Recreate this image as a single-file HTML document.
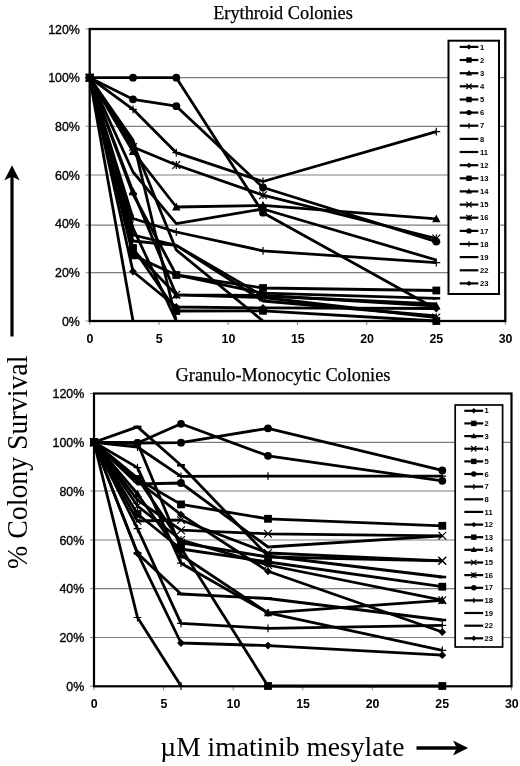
<!DOCTYPE html>
<html><head><meta charset="utf-8"><style>
html,body{margin:0;padding:0;background:#fff;}
body{width:520px;height:766px;overflow:hidden;position:relative;}
svg{position:absolute;left:0;top:0;will-change:transform;}
.tk{font-family:"Liberation Sans",sans-serif;font-size:12.4px;font-weight:bold;fill:#000;}
.lg{font-family:"Liberation Sans",sans-serif;font-size:7.6px;font-weight:bold;fill:#000;}
.tky{font-family:"Liberation Sans",sans-serif;font-size:12.4px;fill:#000;stroke:#000;stroke-width:0.35px;}
.ti{font-family:"Liberation Serif",serif;font-size:18.3px;fill:#000;stroke:#000;stroke-width:0.25px;}
.ax{font-family:"Liberation Serif",serif;font-size:28px;fill:#000;}
</style></head><body>
<svg width="520" height="766" viewBox="0 0 520 766">
<text x="283" y="19" text-anchor="middle" class="ti">Erythroid Colonies</text>
<text x="283" y="381" text-anchor="middle" class="ti">Granulo-Monocytic Colonies</text>
<line x1="89.7" y1="272.7" x2="505.3" y2="272.7" stroke="#7e7e7e" stroke-width="1.2"/>
<line x1="89.7" y1="225.1" x2="505.3" y2="225.1" stroke="#7e7e7e" stroke-width="1.2"/>
<line x1="89.7" y1="175" x2="505.3" y2="175" stroke="#7e7e7e" stroke-width="1.2"/>
<line x1="89.7" y1="126.3" x2="505.3" y2="126.3" stroke="#7e7e7e" stroke-width="1.2"/>
<line x1="89.7" y1="77.6" x2="505.3" y2="77.6" stroke="#7e7e7e" stroke-width="1.2"/>
<line x1="85.7" y1="321" x2="89.7" y2="321" stroke="#8a8a8a" stroke-width="1"/>
<line x1="85.7" y1="272.7" x2="89.7" y2="272.7" stroke="#8a8a8a" stroke-width="1"/>
<line x1="85.7" y1="225.1" x2="89.7" y2="225.1" stroke="#8a8a8a" stroke-width="1"/>
<line x1="85.7" y1="175" x2="89.7" y2="175" stroke="#8a8a8a" stroke-width="1"/>
<line x1="85.7" y1="126.3" x2="89.7" y2="126.3" stroke="#8a8a8a" stroke-width="1"/>
<line x1="85.7" y1="77.6" x2="89.7" y2="77.6" stroke="#8a8a8a" stroke-width="1"/>
<line x1="85.7" y1="29" x2="89.7" y2="29" stroke="#8a8a8a" stroke-width="1"/>
<line x1="89.7" y1="321" x2="89.7" y2="325" stroke="#8a8a8a" stroke-width="1"/>
<line x1="159" y1="321" x2="159" y2="325" stroke="#8a8a8a" stroke-width="1"/>
<line x1="228.2" y1="321" x2="228.2" y2="325" stroke="#8a8a8a" stroke-width="1"/>
<line x1="297.5" y1="321" x2="297.5" y2="325" stroke="#8a8a8a" stroke-width="1"/>
<line x1="366.8" y1="321" x2="366.8" y2="325" stroke="#8a8a8a" stroke-width="1"/>
<line x1="436" y1="321" x2="436" y2="325" stroke="#8a8a8a" stroke-width="1"/>
<line x1="505.3" y1="321" x2="505.3" y2="325" stroke="#8a8a8a" stroke-width="1"/>
<text x="79.9" y="325.6" text-anchor="end" class="tky">0%</text>
<text x="79.9" y="276.9" text-anchor="end" class="tky">20%</text>
<text x="79.9" y="228.3" text-anchor="end" class="tky">40%</text>
<text x="79.9" y="179.6" text-anchor="end" class="tky">60%</text>
<text x="79.9" y="130.9" text-anchor="end" class="tky">80%</text>
<text x="79.9" y="82.3" text-anchor="end" class="tky">100%</text>
<text x="79.9" y="33.6" text-anchor="end" class="tky">120%</text>
<text x="90" y="342.8" text-anchor="middle" class="tk">0</text>
<text x="159.3" y="342.8" text-anchor="middle" class="tk">5</text>
<text x="228.5" y="342.8" text-anchor="middle" class="tk">10</text>
<text x="297.8" y="342.8" text-anchor="middle" class="tk">15</text>
<text x="367.1" y="342.8" text-anchor="middle" class="tk">20</text>
<text x="436.3" y="342.8" text-anchor="middle" class="tk">25</text>
<text x="505.6" y="342.8" text-anchor="middle" class="tk">30</text>
<path d="M89.7,77.7 L133,77.7 L176.3,77.7 L263,212.7 L436.3,309" stroke="#000" stroke-width="2.8" fill="none" stroke-linejoin="round"/>
<circle cx="89.7" cy="77.7" r="3.9" fill="#000"/>
<circle cx="133" cy="77.7" r="3.9" fill="#000"/>
<circle cx="176.3" cy="77.7" r="3.9" fill="#000"/>
<circle cx="263" cy="212.7" r="3.9" fill="#000"/>
<path d="M89.7,77.7 L133,99.3 L176.3,106.2 L263,187.5 L436.3,241.6" stroke="#000" stroke-width="2.8" fill="none" stroke-linejoin="round"/>
<circle cx="89.7" cy="77.7" r="3.9" fill="#000"/>
<circle cx="133" cy="99.3" r="3.9" fill="#000"/>
<circle cx="176.3" cy="106.2" r="3.9" fill="#000"/>
<circle cx="263" cy="187.5" r="3.9" fill="#000"/>
<circle cx="436.3" cy="241.6" r="3.9" fill="#000"/>
<path d="M89.7,77.7 L133,109.3 L176.3,152.7 L263,181.5 L436.3,131.6" stroke="#000" stroke-width="2.8" fill="none" stroke-linejoin="round"/>
<path d="M89.7,73.8V81.6M85.8,77.7H93.6" stroke="#000" stroke-width="1.2" fill="none"/>
<path d="M133,105.4V113.2M129.1,109.3H136.9" stroke="#000" stroke-width="1.2" fill="none"/>
<path d="M176.3,148.8V156.6M172.4,152.7H180.2" stroke="#000" stroke-width="1.2" fill="none"/>
<path d="M263,177.6V185.4M259.1,181.5H266.9" stroke="#000" stroke-width="1.2" fill="none"/>
<path d="M436.3,127.7V135.5M432.4,131.6H440.2" stroke="#000" stroke-width="1.2" fill="none"/>
<path d="M89.7,77.7 L133,147 L176.3,165 L263,195.2 L436.3,238.5" stroke="#000" stroke-width="2.8" fill="none" stroke-linejoin="round"/>
<path d="M85.8,73.8L93.6,81.6M85.8,81.6L93.6,73.8M89.7,73.8V81.6" stroke="#000" stroke-width="1.2" fill="none"/>
<path d="M129.1,143.1L136.9,150.9M129.1,150.9L136.9,143.1M133,143.1V150.9" stroke="#000" stroke-width="1.2" fill="none"/>
<path d="M172.4,161.1L180.2,168.9M172.4,168.9L180.2,161.1M176.3,161.1V168.9" stroke="#000" stroke-width="1.2" fill="none"/>
<path d="M259.1,191.3L266.9,199.1M259.1,199.1L266.9,191.3M263,191.3V199.1" stroke="#000" stroke-width="1.2" fill="none"/>
<path d="M432.4,234.6L440.2,242.4M432.4,242.4L440.2,234.6M436.3,234.6V242.4" stroke="#000" stroke-width="1.2" fill="none"/>
<path d="M89.7,77.7 L133,151.5 L176.3,207 L263,205.4 L436.3,218.9" stroke="#000" stroke-width="2.8" fill="none" stroke-linejoin="round"/>
<path d="M89.7,73.3 L93.9,81.1 L85.5,81.1Z" fill="#000"/>
<path d="M133,147.1 L137.2,154.9 L128.8,154.9Z" fill="#000"/>
<path d="M176.3,202.6 L180.5,210.4 L172.1,210.4Z" fill="#000"/>
<path d="M263,201 L267.2,208.8 L258.8,208.8Z" fill="#000"/>
<path d="M436.3,214.5 L440.5,222.3 L432.1,222.3Z" fill="#000"/>
<path d="M89.7,77.7 L133,172 L176.3,223.6 L263,209 L436.3,260" stroke="#000" stroke-width="2.8" fill="none" stroke-linejoin="round"/>
<path d="M89.7,77.7 L133,218.5 L176.3,232 L263,250.8 L436.3,262.7" stroke="#000" stroke-width="2.8" fill="none" stroke-linejoin="round"/>
<path d="M89.7,73.8V81.6M85.8,77.7H93.6" stroke="#000" stroke-width="1.2" fill="none"/>
<path d="M133,214.6V222.4M129.1,218.5H136.9" stroke="#000" stroke-width="1.2" fill="none"/>
<path d="M176.3,228.1V235.9M172.4,232H180.2" stroke="#000" stroke-width="1.2" fill="none"/>
<path d="M263,246.9V254.7M259.1,250.8H266.9" stroke="#000" stroke-width="1.2" fill="none"/>
<path d="M436.3,258.8V266.6M432.4,262.7H440.2" stroke="#000" stroke-width="1.2" fill="none"/>
<path d="M89.7,77.7 L133,143 L176.3,250 L263,321" stroke="#000" stroke-width="2.8" fill="none" stroke-linejoin="round"/>
<path d="M133,138.6 L137.2,146.4 L128.8,146.4Z" fill="#000"/>
<path d="M89.7,77.7 L133,255.4 L176.3,275 L263,288 L436.3,290.5" stroke="#000" stroke-width="2.8" fill="none" stroke-linejoin="round"/>
<rect x="85.8" y="73.8" width="7.8" height="7.8" fill="#000"/>
<rect x="129.1" y="251.5" width="7.8" height="7.8" fill="#000"/>
<rect x="172.4" y="271.1" width="7.8" height="7.8" fill="#000"/>
<rect x="259.1" y="284.1" width="7.8" height="7.8" fill="#000"/>
<rect x="432.4" y="286.6" width="7.8" height="7.8" fill="#000"/>
<path d="M89.7,77.7 L133,271.5 L176.3,307 L263,307.9 L436.3,308.5" stroke="#000" stroke-width="2.8" fill="none" stroke-linejoin="round"/>
<path d="M89.7,73.8 L93.6,77.7 L89.7,81.6 L85.8,77.7Z" fill="#000"/>
<path d="M133,267.6 L136.9,271.5 L133,275.4 L129.1,271.5Z" fill="#000"/>
<path d="M176.3,303.1 L180.2,307 L176.3,310.9 L172.4,307Z" fill="#000"/>
<path d="M263,304 L266.9,307.9 L263,311.8 L259.1,307.9Z" fill="#000"/>
<path d="M436.3,304.6 L440.2,308.5 L436.3,312.4 L432.4,308.5Z" fill="#000"/>
<path d="M89.7,77.7 L133,241 L176.3,245.4 L263,296 L436.3,304" stroke="#000" stroke-width="2.8" fill="none" stroke-linejoin="round"/>
<path d="M89.7,77.7 L133,321" stroke="#000" stroke-width="2.8" fill="none" stroke-linejoin="round"/>
<path d="M89.7,77.7 L133,140 L176.3,321" stroke="#000" stroke-width="2.8" fill="none" stroke-linejoin="round"/>
<path d="M89.7,77.7 L133,235 L176.3,245.4 L263,301 L436.3,316" stroke="#000" stroke-width="2.8" fill="none" stroke-linejoin="round"/>
<path d="M89.7,77.7 L133,194 L176.3,275 L263,293.2 L436.3,298.3" stroke="#000" stroke-width="2.8" fill="none" stroke-linejoin="round"/>
<path d="M85.8,77.7H93.6" stroke="#000" stroke-width="2.6" fill="none"/>
<path d="M129.1,194H136.9" stroke="#000" stroke-width="2.6" fill="none"/>
<path d="M172.4,275H180.2" stroke="#000" stroke-width="2.6" fill="none"/>
<path d="M259.1,293.2H266.9" stroke="#000" stroke-width="2.6" fill="none"/>
<path d="M432.4,298.3H440.2" stroke="#000" stroke-width="2.6" fill="none"/>
<path d="M89.7,77.7 L133,191.5 L176.3,294.8 L263,295.4 L436.3,306" stroke="#000" stroke-width="2.8" fill="none" stroke-linejoin="round"/>
<path d="M89.7,73.3 L93.9,81.1 L85.5,81.1Z" fill="#000"/>
<path d="M133,187.1 L137.2,194.9 L128.8,194.9Z" fill="#000"/>
<path d="M176.3,290.4 L180.5,298.2 L172.1,298.2Z" fill="#000"/>
<path d="M263,291 L267.2,298.8 L258.8,298.8Z" fill="#000"/>
<path d="M436.3,301.6 L440.5,309.4 L432.1,309.4Z" fill="#000"/>
<path d="M89.7,77.7 L133,248 L176.3,311 L263,310.8 L436.3,321" stroke="#000" stroke-width="2.8" fill="none" stroke-linejoin="round"/>
<rect x="85.8" y="73.8" width="7.8" height="7.8" fill="#000"/>
<rect x="129.1" y="244.1" width="7.8" height="7.8" fill="#000"/>
<rect x="172.4" y="307.1" width="7.8" height="7.8" fill="#000"/>
<rect x="259.1" y="306.9" width="7.8" height="7.8" fill="#000"/>
<rect x="432.4" y="317.1" width="7.8" height="7.8" fill="#000"/>
<path d="M89.7,77.7 L133,250 L176.3,294.8 L263,297.5 L436.3,317.5" stroke="#000" stroke-width="2.8" fill="none" stroke-linejoin="round"/>
<path d="M85.8,73.8L93.6,81.6M85.8,81.6L93.6,73.8M89.7,73.8V81.6" stroke="#000" stroke-width="1.2" fill="none"/>
<path d="M129.1,246.1L136.9,253.9M129.1,253.9L136.9,246.1M133,246.1V253.9" stroke="#000" stroke-width="1.2" fill="none"/>
<path d="M172.4,290.9L180.2,298.7M172.4,298.7L180.2,290.9M176.3,290.9V298.7" stroke="#000" stroke-width="1.2" fill="none"/>
<path d="M259.1,293.6L266.9,301.4M259.1,301.4L266.9,293.6M263,293.6V301.4" stroke="#000" stroke-width="1.2" fill="none"/>
<path d="M432.4,313.6L440.2,321.4M432.4,321.4L440.2,313.6M436.3,313.6V321.4" stroke="#000" stroke-width="1.2" fill="none"/>
<path d="M89.7,77.7 L133,228 L176.3,321" stroke="#000" stroke-width="2.8" fill="none" stroke-linejoin="round"/>
<rect x="89.7" y="29" width="415.6" height="292" fill="none" stroke="#000" stroke-width="2.3"/>
<rect x="448.5" y="40.7" width="50.5" height="253.3" fill="#fff" stroke="#000" stroke-width="2.0"/>
<line x1="459.7" y1="46.9" x2="478.3" y2="46.9" stroke="#000" stroke-width="2.2"/>
<path d="M469,44.2 L471.7,46.9 L469,49.6 L466.3,46.9Z" fill="#000"/>
<text x="480" y="49.5" class="lg">1</text>
<line x1="459.7" y1="60" x2="478.3" y2="60" stroke="#000" stroke-width="2.2"/>
<rect x="466.3" y="57.3" width="5.4" height="5.4" fill="#000"/>
<text x="480" y="62.6" class="lg">2</text>
<line x1="459.7" y1="73.2" x2="478.3" y2="73.2" stroke="#000" stroke-width="2.2"/>
<path d="M469,70 L472,75.4 L466,75.4Z" fill="#000"/>
<text x="480" y="75.8" class="lg">3</text>
<line x1="459.7" y1="86.3" x2="478.3" y2="86.3" stroke="#000" stroke-width="2.2"/>
<path d="M466.3,83.6L471.7,89M466.3,89L471.7,83.6" stroke="#000" stroke-width="1.2" fill="none"/>
<text x="480" y="88.9" class="lg">4</text>
<line x1="459.7" y1="99.5" x2="478.3" y2="99.5" stroke="#000" stroke-width="2.2"/>
<rect x="466.3" y="96.8" width="5.4" height="5.4" fill="#000"/>
<text x="480" y="102.1" class="lg">5</text>
<line x1="459.7" y1="112.6" x2="478.3" y2="112.6" stroke="#000" stroke-width="2.2"/>
<circle cx="469" cy="112.6" r="2.7" fill="#000"/>
<text x="480" y="115.2" class="lg">6</text>
<line x1="459.7" y1="125.7" x2="478.3" y2="125.7" stroke="#000" stroke-width="2.2"/>
<path d="M469,123V128.4M466.3,125.7H471.7" stroke="#000" stroke-width="1.2" fill="none"/>
<text x="480" y="128.3" class="lg">7</text>
<line x1="459.7" y1="138.9" x2="478.3" y2="138.9" stroke="#000" stroke-width="2.2"/>
<text x="480" y="141.5" class="lg">8</text>
<line x1="459.7" y1="152" x2="478.3" y2="152" stroke="#000" stroke-width="2.2"/>
<text x="480" y="154.6" class="lg">11</text>
<line x1="459.7" y1="165.2" x2="478.3" y2="165.2" stroke="#000" stroke-width="2.2"/>
<path d="M469,162.5 L471.7,165.2 L469,167.9 L466.3,165.2Z" fill="#000"/>
<text x="480" y="167.8" class="lg">12</text>
<line x1="459.7" y1="178.3" x2="478.3" y2="178.3" stroke="#000" stroke-width="2.2"/>
<rect x="466.3" y="175.6" width="5.4" height="5.4" fill="#000"/>
<text x="480" y="180.9" class="lg">13</text>
<line x1="459.7" y1="191.4" x2="478.3" y2="191.4" stroke="#000" stroke-width="2.2"/>
<path d="M469,188.2 L472,193.6 L466,193.6Z" fill="#000"/>
<text x="480" y="194" class="lg">14</text>
<line x1="459.7" y1="204.6" x2="478.3" y2="204.6" stroke="#000" stroke-width="2.2"/>
<path d="M466.3,201.9L471.7,207.3M466.3,207.3L471.7,201.9" stroke="#000" stroke-width="1.2" fill="none"/>
<text x="480" y="207.2" class="lg">15</text>
<line x1="459.7" y1="217.7" x2="478.3" y2="217.7" stroke="#000" stroke-width="2.2"/>
<path d="M466.3,215L471.7,220.4M466.3,220.4L471.7,215M469,215V220.4" stroke="#000" stroke-width="1.2" fill="none"/>
<text x="480" y="220.3" class="lg">16</text>
<line x1="459.7" y1="230.9" x2="478.3" y2="230.9" stroke="#000" stroke-width="2.2"/>
<circle cx="469" cy="230.9" r="2.7" fill="#000"/>
<text x="480" y="233.5" class="lg">17</text>
<line x1="459.7" y1="244" x2="478.3" y2="244" stroke="#000" stroke-width="2.2"/>
<path d="M469,241.3V246.7M466.3,244H471.7" stroke="#000" stroke-width="1.2" fill="none"/>
<text x="480" y="246.6" class="lg">18</text>
<line x1="459.7" y1="257.1" x2="478.3" y2="257.1" stroke="#000" stroke-width="2.2"/>
<text x="480" y="259.7" class="lg">19</text>
<line x1="459.7" y1="270.3" x2="478.3" y2="270.3" stroke="#000" stroke-width="2.2"/>
<text x="480" y="272.9" class="lg">22</text>
<line x1="459.7" y1="283.4" x2="478.3" y2="283.4" stroke="#000" stroke-width="2.2"/>
<path d="M469,280.7 L471.7,283.4 L469,286.1 L466.3,283.4Z" fill="#000"/>
<text x="480" y="286" class="lg">23</text>
<line x1="94" y1="637.5" x2="511.5" y2="637.5" stroke="#7e7e7e" stroke-width="1.2"/>
<line x1="94" y1="588.6" x2="511.5" y2="588.6" stroke="#7e7e7e" stroke-width="1.2"/>
<line x1="94" y1="540" x2="511.5" y2="540" stroke="#7e7e7e" stroke-width="1.2"/>
<line x1="94" y1="491" x2="511.5" y2="491" stroke="#7e7e7e" stroke-width="1.2"/>
<line x1="94" y1="442.4" x2="511.5" y2="442.4" stroke="#7e7e7e" stroke-width="1.2"/>
<line x1="90" y1="686.2" x2="94" y2="686.2" stroke="#8a8a8a" stroke-width="1"/>
<line x1="90" y1="637.5" x2="94" y2="637.5" stroke="#8a8a8a" stroke-width="1"/>
<line x1="90" y1="588.6" x2="94" y2="588.6" stroke="#8a8a8a" stroke-width="1"/>
<line x1="90" y1="540" x2="94" y2="540" stroke="#8a8a8a" stroke-width="1"/>
<line x1="90" y1="491" x2="94" y2="491" stroke="#8a8a8a" stroke-width="1"/>
<line x1="90" y1="442.4" x2="94" y2="442.4" stroke="#8a8a8a" stroke-width="1"/>
<line x1="90" y1="393.5" x2="94" y2="393.5" stroke="#8a8a8a" stroke-width="1"/>
<line x1="94" y1="686.3" x2="94" y2="690.3" stroke="#8a8a8a" stroke-width="1"/>
<line x1="163.6" y1="686.3" x2="163.6" y2="690.3" stroke="#8a8a8a" stroke-width="1"/>
<line x1="233.2" y1="686.3" x2="233.2" y2="690.3" stroke="#8a8a8a" stroke-width="1"/>
<line x1="302.8" y1="686.3" x2="302.8" y2="690.3" stroke="#8a8a8a" stroke-width="1"/>
<line x1="372.3" y1="686.3" x2="372.3" y2="690.3" stroke="#8a8a8a" stroke-width="1"/>
<line x1="441.9" y1="686.3" x2="441.9" y2="690.3" stroke="#8a8a8a" stroke-width="1"/>
<line x1="511.5" y1="686.3" x2="511.5" y2="690.3" stroke="#8a8a8a" stroke-width="1"/>
<text x="84.2" y="690.9" text-anchor="end" class="tky">0%</text>
<text x="84.2" y="642.1" text-anchor="end" class="tky">20%</text>
<text x="84.2" y="593.3" text-anchor="end" class="tky">40%</text>
<text x="84.2" y="544.5" text-anchor="end" class="tky">60%</text>
<text x="84.2" y="495.7" text-anchor="end" class="tky">80%</text>
<text x="84.2" y="446.9" text-anchor="end" class="tky">100%</text>
<text x="84.2" y="398.1" text-anchor="end" class="tky">120%</text>
<text x="94.3" y="708.1" text-anchor="middle" class="tk">0</text>
<text x="163.9" y="708.1" text-anchor="middle" class="tk">5</text>
<text x="233.5" y="708.1" text-anchor="middle" class="tk">10</text>
<text x="303.1" y="708.1" text-anchor="middle" class="tk">15</text>
<text x="372.6" y="708.1" text-anchor="middle" class="tk">20</text>
<text x="442.2" y="708.1" text-anchor="middle" class="tk">25</text>
<text x="511.8" y="708.1" text-anchor="middle" class="tk">30</text>
<path d="M94,442.3 L137.5,443 L181,548 L268,686 L442.3,686" stroke="#000" stroke-width="2.8" fill="none" stroke-linejoin="round"/>
<rect x="90.1" y="438.4" width="7.8" height="7.8" fill="#000"/>
<rect x="177.1" y="544.1" width="7.8" height="7.8" fill="#000"/>
<rect x="264.1" y="682.1" width="7.8" height="7.8" fill="#000"/>
<rect x="438.4" y="682.1" width="7.8" height="7.8" fill="#000"/>
<path d="M94,442.3 L137.5,443 L181,442.7 L268,428.3 L442.3,470.4" stroke="#000" stroke-width="2.8" fill="none" stroke-linejoin="round"/>
<circle cx="94" cy="442.3" r="3.9" fill="#000"/>
<circle cx="137.5" cy="443" r="3.9" fill="#000"/>
<circle cx="181" cy="442.7" r="3.9" fill="#000"/>
<circle cx="268" cy="428.3" r="3.9" fill="#000"/>
<circle cx="442.3" cy="470.4" r="3.9" fill="#000"/>
<path d="M94,442.3 L137.5,443 L181,423.8 L268,455.8 L442.3,480.8" stroke="#000" stroke-width="2.8" fill="none" stroke-linejoin="round"/>
<circle cx="94" cy="442.3" r="3.9" fill="#000"/>
<circle cx="137.5" cy="443" r="3.9" fill="#000"/>
<circle cx="181" cy="423.8" r="3.9" fill="#000"/>
<circle cx="268" cy="455.8" r="3.9" fill="#000"/>
<circle cx="442.3" cy="480.8" r="3.9" fill="#000"/>
<path d="M94,442.3 L137.5,426.9 L181,465.3 L268,556 L442.3,577" stroke="#000" stroke-width="2.8" fill="none" stroke-linejoin="round"/>
<path d="M90.1,442.3H97.9" stroke="#000" stroke-width="2.6" fill="none"/>
<path d="M133.6,426.9H141.4" stroke="#000" stroke-width="2.6" fill="none"/>
<path d="M177.1,465.3H184.9" stroke="#000" stroke-width="2.6" fill="none"/>
<path d="M264.1,556H271.9" stroke="#000" stroke-width="2.6" fill="none"/>
<path d="M438.4,577H446.2" stroke="#000" stroke-width="2.6" fill="none"/>
<path d="M94,442.3 L137.5,447 L181,476.3 L268,476.2 L442.3,476.2" stroke="#000" stroke-width="2.8" fill="none" stroke-linejoin="round"/>
<path d="M94,438.4V446.2M90.1,442.3H97.9" stroke="#000" stroke-width="1.2" fill="none"/>
<path d="M137.5,443.1V450.9M133.6,447H141.4" stroke="#000" stroke-width="1.2" fill="none"/>
<path d="M181,472.4V480.2M177.1,476.3H184.9" stroke="#000" stroke-width="1.2" fill="none"/>
<path d="M268,472.3V480.1M264.1,476.2H271.9" stroke="#000" stroke-width="1.2" fill="none"/>
<path d="M442.3,472.3V480.1M438.4,476.2H446.2" stroke="#000" stroke-width="1.2" fill="none"/>
<path d="M94,442.3 L137.5,484 L181,483 L268,547 L442.3,535.8" stroke="#000" stroke-width="2.8" fill="none" stroke-linejoin="round"/>
<circle cx="181" cy="483" r="3.9" fill="#000"/>
<path d="M94,442.3 L137.5,479 L181,504.4 L268,518.8 L442.3,525.8" stroke="#000" stroke-width="2.8" fill="none" stroke-linejoin="round"/>
<rect x="90.1" y="438.4" width="7.8" height="7.8" fill="#000"/>
<rect x="133.6" y="475.1" width="7.8" height="7.8" fill="#000"/>
<rect x="177.1" y="500.5" width="7.8" height="7.8" fill="#000"/>
<rect x="264.1" y="514.9" width="7.8" height="7.8" fill="#000"/>
<rect x="438.4" y="521.9" width="7.8" height="7.8" fill="#000"/>
<path d="M94,442.3 L137.5,500 L181,530.2 L268,533.8 L442.3,535.8" stroke="#000" stroke-width="2.8" fill="none" stroke-linejoin="round"/>
<path d="M90.1,438.4L97.9,446.2M90.1,446.2L97.9,438.4" stroke="#000" stroke-width="1.2" fill="none"/>
<path d="M133.6,496.1L141.4,503.9M133.6,503.9L141.4,496.1" stroke="#000" stroke-width="1.2" fill="none"/>
<path d="M177.1,526.3L184.9,534.1M177.1,534.1L184.9,526.3" stroke="#000" stroke-width="1.2" fill="none"/>
<path d="M264.1,529.9L271.9,537.7M264.1,537.7L271.9,529.9" stroke="#000" stroke-width="1.2" fill="none"/>
<path d="M438.4,531.9L446.2,539.7M438.4,539.7L446.2,531.9" stroke="#000" stroke-width="1.2" fill="none"/>
<path d="M94,442.3 L137.5,481 L181,514.6 L268,571.3 L442.3,632" stroke="#000" stroke-width="2.8" fill="none" stroke-linejoin="round"/>
<path d="M94,438.4 L97.9,442.3 L94,446.2 L90.1,442.3Z" fill="#000"/>
<path d="M137.5,477.1 L141.4,481 L137.5,484.9 L133.6,481Z" fill="#000"/>
<path d="M181,510.7 L184.9,514.6 L181,518.5 L177.1,514.6Z" fill="#000"/>
<path d="M268,567.4 L271.9,571.3 L268,575.2 L264.1,571.3Z" fill="#000"/>
<path d="M442.3,628.1 L446.2,632 L442.3,635.9 L438.4,632Z" fill="#000"/>
<path d="M94,442.3 L137.5,478 L181,542.8 L268,557 L442.3,560.8" stroke="#000" stroke-width="2.8" fill="none" stroke-linejoin="round"/>
<path d="M90.1,438.4L97.9,446.2M90.1,446.2L97.9,438.4" stroke="#000" stroke-width="1.2" fill="none"/>
<path d="M133.6,474.1L141.4,481.9M133.6,481.9L141.4,474.1" stroke="#000" stroke-width="1.2" fill="none"/>
<path d="M177.1,538.9L184.9,546.7M177.1,546.7L184.9,538.9" stroke="#000" stroke-width="1.2" fill="none"/>
<path d="M264.1,553.1L271.9,560.9M264.1,560.9L271.9,553.1" stroke="#000" stroke-width="1.2" fill="none"/>
<path d="M438.4,556.9L446.2,564.7M438.4,564.7L446.2,556.9" stroke="#000" stroke-width="1.2" fill="none"/>
<path d="M94,442.3 L137.5,514 L181,549 L268,562 L442.3,586.7" stroke="#000" stroke-width="2.8" fill="none" stroke-linejoin="round"/>
<rect x="90.1" y="438.4" width="7.8" height="7.8" fill="#000"/>
<rect x="133.6" y="510.1" width="7.8" height="7.8" fill="#000"/>
<rect x="177.1" y="545.1" width="7.8" height="7.8" fill="#000"/>
<rect x="264.1" y="558.1" width="7.8" height="7.8" fill="#000"/>
<rect x="438.4" y="582.8" width="7.8" height="7.8" fill="#000"/>
<path d="M94,442.3 L137.5,467.6 L181,563.2 L268,612.9 L442.3,650.4" stroke="#000" stroke-width="2.8" fill="none" stroke-linejoin="round"/>
<path d="M94,438.4V446.2M90.1,442.3H97.9" stroke="#000" stroke-width="1.2" fill="none"/>
<path d="M137.5,463.7V471.5M133.6,467.6H141.4" stroke="#000" stroke-width="1.2" fill="none"/>
<path d="M181,559.3V567.1M177.1,563.2H184.9" stroke="#000" stroke-width="1.2" fill="none"/>
<path d="M268,609V616.8M264.1,612.9H271.9" stroke="#000" stroke-width="1.2" fill="none"/>
<path d="M442.3,646.5V654.3M438.4,650.4H446.2" stroke="#000" stroke-width="1.2" fill="none"/>
<path d="M94,442.3 L137.5,553.3 L181,594 L268,598.5 L442.3,620" stroke="#000" stroke-width="2.8" fill="none" stroke-linejoin="round"/>
<path d="M90.1,442.3H97.9" stroke="#000" stroke-width="2.6" fill="none"/>
<path d="M133.6,553.3H141.4" stroke="#000" stroke-width="2.6" fill="none"/>
<path d="M177.1,594H184.9" stroke="#000" stroke-width="2.6" fill="none"/>
<path d="M264.1,598.5H271.9" stroke="#000" stroke-width="2.6" fill="none"/>
<path d="M438.4,620H446.2" stroke="#000" stroke-width="2.6" fill="none"/>
<path d="M94,442.3 L137.5,528.7 L181,623.3 L268,628.3 L442.3,625.4" stroke="#000" stroke-width="2.8" fill="none" stroke-linejoin="round"/>
<path d="M94,438.4V446.2M90.1,442.3H97.9" stroke="#000" stroke-width="1.2" fill="none"/>
<path d="M137.5,524.8V532.6M133.6,528.7H141.4" stroke="#000" stroke-width="1.2" fill="none"/>
<path d="M181,619.4V627.2M177.1,623.3H184.9" stroke="#000" stroke-width="1.2" fill="none"/>
<path d="M268,624.4V632.2M264.1,628.3H271.9" stroke="#000" stroke-width="1.2" fill="none"/>
<path d="M442.3,621.5V629.3M438.4,625.4H446.2" stroke="#000" stroke-width="1.2" fill="none"/>
<path d="M94,442.3 L137.5,553.3 L181,643 L268,645.6 L442.3,655.2" stroke="#000" stroke-width="2.8" fill="none" stroke-linejoin="round"/>
<path d="M94,438.4 L97.9,442.3 L94,446.2 L90.1,442.3Z" fill="#000"/>
<path d="M137.5,549.4 L141.4,553.3 L137.5,557.2 L133.6,553.3Z" fill="#000"/>
<path d="M181,639.1 L184.9,643 L181,646.9 L177.1,643Z" fill="#000"/>
<path d="M268,641.7 L271.9,645.6 L268,649.5 L264.1,645.6Z" fill="#000"/>
<path d="M442.3,651.3 L446.2,655.2 L442.3,659.1 L438.4,655.2Z" fill="#000"/>
<path d="M94,442.3 L137.5,617.5 L181,686" stroke="#000" stroke-width="2.8" fill="none" stroke-linejoin="round"/>
<path d="M94,438.4V446.2M90.1,442.3H97.9" stroke="#000" stroke-width="1.2" fill="none"/>
<path d="M137.5,613.6V621.4M133.6,617.5H141.4" stroke="#000" stroke-width="1.2" fill="none"/>
<path d="M181,682.1V689.9M177.1,686H184.9" stroke="#000" stroke-width="1.2" fill="none"/>
<path d="M94,442.3 L137.5,494 L181,555 L268,612.9 L442.3,600.4" stroke="#000" stroke-width="2.8" fill="none" stroke-linejoin="round"/>
<path d="M94,437.9 L98.2,445.7 L89.8,445.7Z" fill="#000"/>
<path d="M137.5,489.6 L141.7,497.4 L133.3,497.4Z" fill="#000"/>
<path d="M181,550.6 L185.2,558.4 L176.8,558.4Z" fill="#000"/>
<path d="M268,608.5 L272.2,616.3 L263.8,616.3Z" fill="#000"/>
<path d="M442.3,596 L446.5,603.8 L438.1,603.8Z" fill="#000"/>
<path d="M94,442.3 L137.5,521 L181,520 L268,553 L442.3,560.8" stroke="#000" stroke-width="2.8" fill="none" stroke-linejoin="round"/>
<path d="M90.1,438.4L97.9,446.2M90.1,446.2L97.9,438.4" stroke="#000" stroke-width="1.2" fill="none"/>
<path d="M133.6,517.1L141.4,524.9M133.6,524.9L141.4,517.1" stroke="#000" stroke-width="1.2" fill="none"/>
<path d="M177.1,516.1L184.9,523.9M177.1,523.9L184.9,516.1" stroke="#000" stroke-width="1.2" fill="none"/>
<path d="M264.1,549.1L271.9,556.9M264.1,556.9L271.9,549.1" stroke="#000" stroke-width="1.2" fill="none"/>
<path d="M438.4,556.9L446.2,564.7M438.4,564.7L446.2,556.9" stroke="#000" stroke-width="1.2" fill="none"/>
<path d="M94,442.3 L137.5,506 L181,540 L268,565 L442.3,600.2" stroke="#000" stroke-width="2.8" fill="none" stroke-linejoin="round"/>
<path d="M90.1,438.4L97.9,446.2M90.1,446.2L97.9,438.4M94,438.4V446.2" stroke="#000" stroke-width="1.2" fill="none"/>
<path d="M133.6,502.1L141.4,509.9M133.6,509.9L141.4,502.1M137.5,502.1V509.9" stroke="#000" stroke-width="1.2" fill="none"/>
<path d="M177.1,536.1L184.9,543.9M177.1,543.9L184.9,536.1M181,536.1V543.9" stroke="#000" stroke-width="1.2" fill="none"/>
<path d="M264.1,561.1L271.9,568.9M264.1,568.9L271.9,561.1M268,561.1V568.9" stroke="#000" stroke-width="1.2" fill="none"/>
<path d="M438.4,596.3L446.2,604.1M438.4,604.1L446.2,596.3M442.3,596.3V604.1" stroke="#000" stroke-width="1.2" fill="none"/>
<rect x="94" y="393.5" width="417.5" height="292.8" fill="none" stroke="#000" stroke-width="2.2"/>
<rect x="455.2" y="405" width="47.4" height="242" fill="#fff" stroke="#000" stroke-width="1.7"/>
<line x1="464.3" y1="410.8" x2="483.2" y2="410.8" stroke="#000" stroke-width="2.2"/>
<path d="M473.8,408.1 L476.4,410.8 L473.8,413.5 L471.1,410.8Z" fill="#000"/>
<text x="484.6" y="413.4" class="lg">1</text>
<line x1="464.3" y1="423.4" x2="483.2" y2="423.4" stroke="#000" stroke-width="2.2"/>
<rect x="471.1" y="420.7" width="5.4" height="5.4" fill="#000"/>
<text x="484.6" y="426" class="lg">2</text>
<line x1="464.3" y1="436.1" x2="483.2" y2="436.1" stroke="#000" stroke-width="2.2"/>
<path d="M473.8,432.9 L476.8,438.3 L470.8,438.3Z" fill="#000"/>
<text x="484.6" y="438.7" class="lg">3</text>
<line x1="464.3" y1="448.7" x2="483.2" y2="448.7" stroke="#000" stroke-width="2.2"/>
<path d="M471.1,446L476.4,451.4M471.1,451.4L476.4,446" stroke="#000" stroke-width="1.2" fill="none"/>
<text x="484.6" y="451.3" class="lg">4</text>
<line x1="464.3" y1="461.4" x2="483.2" y2="461.4" stroke="#000" stroke-width="2.2"/>
<rect x="471.1" y="458.7" width="5.4" height="5.4" fill="#000"/>
<text x="484.6" y="464" class="lg">5</text>
<line x1="464.3" y1="474" x2="483.2" y2="474" stroke="#000" stroke-width="2.2"/>
<circle cx="473.8" cy="474" r="2.7" fill="#000"/>
<text x="484.6" y="476.6" class="lg">6</text>
<line x1="464.3" y1="486.6" x2="483.2" y2="486.6" stroke="#000" stroke-width="2.2"/>
<path d="M473.8,483.9V489.3M471.1,486.6H476.4" stroke="#000" stroke-width="1.2" fill="none"/>
<text x="484.6" y="489.2" class="lg">7</text>
<line x1="464.3" y1="499.3" x2="483.2" y2="499.3" stroke="#000" stroke-width="2.2"/>
<text x="484.6" y="501.9" class="lg">8</text>
<line x1="464.3" y1="511.9" x2="483.2" y2="511.9" stroke="#000" stroke-width="2.2"/>
<text x="484.6" y="514.5" class="lg">11</text>
<line x1="464.3" y1="524.6" x2="483.2" y2="524.6" stroke="#000" stroke-width="2.2"/>
<path d="M473.8,521.9 L476.4,524.6 L473.8,527.3 L471.1,524.6Z" fill="#000"/>
<text x="484.6" y="527.2" class="lg">12</text>
<line x1="464.3" y1="537.2" x2="483.2" y2="537.2" stroke="#000" stroke-width="2.2"/>
<rect x="471.1" y="534.5" width="5.4" height="5.4" fill="#000"/>
<text x="484.6" y="539.8" class="lg">13</text>
<line x1="464.3" y1="549.8" x2="483.2" y2="549.8" stroke="#000" stroke-width="2.2"/>
<path d="M473.8,546.6 L476.8,552 L470.8,552Z" fill="#000"/>
<text x="484.6" y="552.4" class="lg">14</text>
<line x1="464.3" y1="562.5" x2="483.2" y2="562.5" stroke="#000" stroke-width="2.2"/>
<path d="M471.1,559.8L476.4,565.2M471.1,565.2L476.4,559.8" stroke="#000" stroke-width="1.2" fill="none"/>
<text x="484.6" y="565.1" class="lg">15</text>
<line x1="464.3" y1="575.1" x2="483.2" y2="575.1" stroke="#000" stroke-width="2.2"/>
<path d="M471.1,572.4L476.4,577.8M471.1,577.8L476.4,572.4M473.8,572.4V577.8" stroke="#000" stroke-width="1.2" fill="none"/>
<text x="484.6" y="577.7" class="lg">16</text>
<line x1="464.3" y1="587.8" x2="483.2" y2="587.8" stroke="#000" stroke-width="2.2"/>
<circle cx="473.8" cy="587.8" r="2.7" fill="#000"/>
<text x="484.6" y="590.4" class="lg">17</text>
<line x1="464.3" y1="600.4" x2="483.2" y2="600.4" stroke="#000" stroke-width="2.2"/>
<path d="M473.8,597.7V603.1M471.1,600.4H476.4" stroke="#000" stroke-width="1.2" fill="none"/>
<text x="484.6" y="603" class="lg">18</text>
<line x1="464.3" y1="613" x2="483.2" y2="613" stroke="#000" stroke-width="2.2"/>
<text x="484.6" y="615.6" class="lg">19</text>
<line x1="464.3" y1="625.7" x2="483.2" y2="625.7" stroke="#000" stroke-width="2.2"/>
<text x="484.6" y="628.3" class="lg">22</text>
<line x1="464.3" y1="638.3" x2="483.2" y2="638.3" stroke="#000" stroke-width="2.2"/>
<path d="M473.8,635.6 L476.4,638.3 L473.8,641 L471.1,638.3Z" fill="#000"/>
<text x="484.6" y="640.9" class="lg">23</text>
<text transform="translate(26.6,569) rotate(-90) scale(0.995,1.06)" class="ax">% Colony Survival</text>
<path d="M12,336.5 V176" stroke="#000" stroke-width="3.2"/>
<path d="M12,165.2 L19.7,180.4 L12,176.5 L4.3,180.4 Z" fill="#000"/>
<text transform="translate(160.3,756) scale(0.985,1)" class="ax">µM imatinib mesylate</text>
<path d="M416.5,748 H458" stroke="#000" stroke-width="3.4"/>
<path d="M468.2,748 L453,740.6 L456.8,748 L453,755.6 Z" fill="#000"/>
</svg></body></html>
